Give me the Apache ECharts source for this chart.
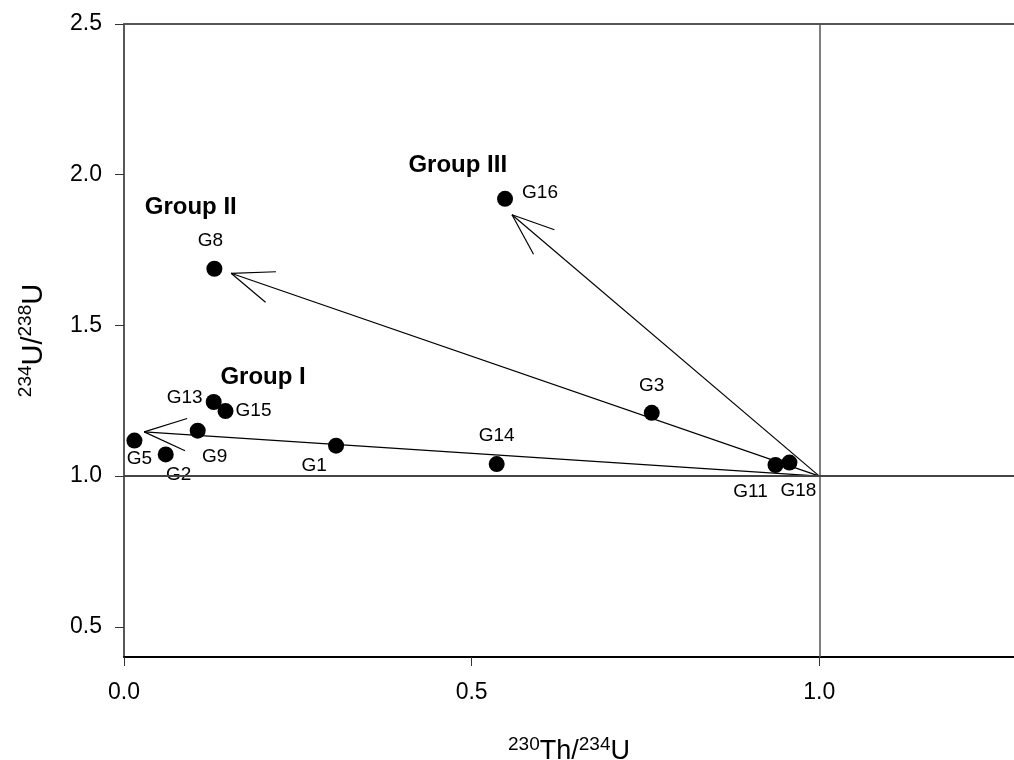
<!DOCTYPE html>
<html>
<head>
<meta charset="utf-8">
<script src="https://cdn.jsdelivr.net/npm/echarts@6/dist/echarts.min.js"></script>
<style>
html,body{margin:0;padding:0;background:#fff;}
#c{width:1014px;height:760px;}
</style>
</head>
<body>
<div id="c"></div>
<script>
// ---- data ----
const sampleNames = ['G5','G2','G9','G13','G15','G1','G14','G3','G11','G18','G8','G16'];
const thU = [0.015,0.060,0.106,0.129,0.146,0.305,0.536,0.759,0.937,0.957,0.130,0.548];
const uU  = [1.118,1.072,1.151,1.246,1.216,1.101,1.040,1.210,1.037,1.045,1.688,1.920];

const arrowStart = [1.0, 1.0];
const arrowTipX = [0.029, 0.154, 0.558];
const arrowTipY = [1.147, 1.673, 1.867];

const groupNames = ['Group I','Group II','Group III'];
const groupX = [0.200, 0.096, 0.480];
const groupY = [1.328, 1.892, 2.032];

const xTicks = [0.0, 0.5, 1.0];
const yTicks = [0.5, 1.0, 1.5, 2.0, 2.5];

// ---- label placement (style) ----
const labelOffset = {
  G5:[5,18], G2:[13,20], G9:[17,26], G13:[-29,-4], G15:[28,0], G1:[-22,20],
  G14:[0,-28], G3:[0,-27], G11:[-25,27], G18:[9,28], G8:[-4,-28], G16:[35,-6]
};

const FONT = '"Liberation Sans", Arial, sans-serif';

const points = sampleNames.map((n,i)=>({
  name:n, value:[thU[i], uU[i]],
  label:{show:true, formatter:n, position:'inside', offset:labelOffset[n],
         color:'#000', fontSize:19, fontFamily:FONT}
}));

const arrowData = arrowTipX.map((x,i)=>[arrowStart[0], arrowStart[1], x, arrowTipY[i]]);
const groupData = groupNames.map((n,i)=>[groupX[i], groupY[i], n]);

const chart = echarts.init(document.getElementById('c'), null, {renderer:'canvas'});

const option = {
  animation:false,
  backgroundColor:'#fff',
  grid:{left:124, right:0, top:24, bottom:103, containLabel:false, outerBoundsMode:'none'},
  xAxis:[{
    type:'value', min:0, max:1.28, position:'bottom',
    axisLine:{show:true, onZero:false, lineStyle:{color:'#000', width:2}},
    axisTick:{show:true, inside:false, length:9, customValues:xTicks, lineStyle:{color:'#333', width:1}},
    axisLabel:{show:true, customValues:xTicks, formatter:v=>v.toFixed(1), margin:24,
               fontSize:23, color:'#000', fontFamily:FONT},
    splitLine:{show:false},
    name:'{sup|230}{b|Th/}{sup|234}{b|U}',
    nameLocation:'middle', nameGap:78,
    nameTextStyle:{fontFamily:FONT, color:'#000', rich:{
      b:{fontSize:27, fontFamily:FONT, color:'#000', lineHeight:30, verticalAlign:'bottom'},
      sup:{fontSize:19, fontFamily:FONT, color:'#000', lineHeight:30, verticalAlign:'top'}
    }}
  },{
    type:'value', min:0, max:1.28, position:'top',
    axisLine:{show:true, onZero:false, lineStyle:{color:'#555', width:2}},
    axisTick:{show:false}, axisLabel:{show:false}, splitLine:{show:false}
  }],
  yAxis:[{
    type:'value', min:0.4, max:2.5,
    axisLine:{show:true, onZero:false, lineStyle:{color:'#222', width:1.5}},
    axisTick:{show:true, inside:false, length:9, customValues:yTicks, lineStyle:{color:'#333', width:1}},
    axisLabel:{show:true, customValues:yTicks, formatter:v=>v.toFixed(1), margin:22,
               fontSize:23, color:'#000', fontFamily:FONT},
    splitLine:{show:false},
    name:'{sup|234}{b|U/}{sup|238}{b|U}',
    nameLocation:'middle', nameGap:76, nameRotate:90,
    nameTextStyle:{fontFamily:FONT, color:'#000', rich:{
      b:{fontSize:29, fontFamily:FONT, color:'#000', lineHeight:32, verticalAlign:'bottom'},
      sup:{fontSize:19, fontFamily:FONT, color:'#000', lineHeight:32, verticalAlign:'top'}
    }}
  }],
  series:[
    {
      type:'custom', name:'arrows', xAxisIndex:0, yAxisIndex:0, silent:true,
      data:arrowData,
      renderItem:function(params, api){
        const p0 = api.coord([api.value(0), api.value(1)]);
        const p1 = api.coord([api.value(2), api.value(3)]);
        const dx = p0[0]-p1[0], dy = p0[1]-p1[1];
        const L = Math.sqrt(dx*dx+dy*dy);
        const ux = dx/L, uy = dy/L;
        const ang = 21*Math.PI/180, len = 45;
        const arm = s => {
          const c = Math.cos(s*ang), sn = Math.sin(s*ang);
          return [p1[0] + len*(ux*c - uy*sn), p1[1] + len*(ux*sn + uy*c)];
        };
        const a1 = arm(1), a2 = arm(-1);
        const st = {stroke:'#000', lineWidth:1.2, fill:null};
        return {type:'group', children:[
          {type:'line', shape:{x1:p0[0], y1:p0[1], x2:p1[0], y2:p1[1]}, style:st},
          {type:'line', shape:{x1:p1[0], y1:p1[1], x2:a1[0], y2:a1[1]}, style:st},
          {type:'line', shape:{x1:p1[0], y1:p1[1], x2:a2[0], y2:a2[1]}, style:st}
        ]};
      },
      z:3
    },
    {
      type:'scatter', name:'samples', xAxisIndex:0, yAxisIndex:0,
      symbol:'circle', symbolSize:16,
      itemStyle:{color:'#000', opacity:1},
      data:points,
      markLine:{
        silent:true, symbol:['none','none'], label:{show:false},
        data:[
          {xAxis:1.0, lineStyle:{color:'#555', width:1.5, type:'solid'}},
          {yAxis:1.0, lineStyle:{color:'#444', width:2, type:'solid'}}
        ]
      },
      z:4
    },
    {
      type:'custom', name:'groups', xAxisIndex:0, yAxisIndex:0, silent:true,
      data:groupData,
      renderItem:function(params, api){
        const p = api.coord([api.value(0), api.value(1)]);
        return {type:'text', x:p[0], y:p[1], style:{
          text:groupData[params.dataIndex][2], x:0, y:0, align:'center', verticalAlign:'middle',
          font:'bold 24px ' + FONT, fill:'#000'
        }};
      },
      z:5
    }
  ]
};
chart.setOption(option);
</script>
</body>
</html>
